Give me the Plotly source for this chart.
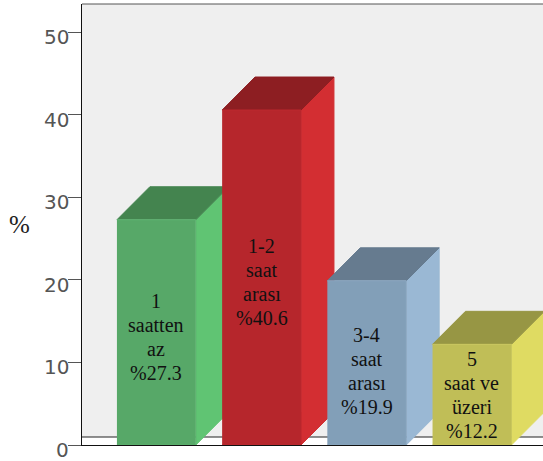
import plotly.graph_objects as go

# Daily duration groups and their shares (%)
labels = [["1", "saatten", "az", "%27.3"], ["1-2", "saat", "arası", "%40.6"],
          ["3-4", "saat", "arası", "%19.9"], ["5", "saat ve", "üzeri", "%12.2"]]
values = [27.3, 40.6, 19.9, 12.2]
label_levels = [13.15, 19.8, 9.03, 6.12]
front_colors = ["#57A868", "#B6262C", "#829FB8", "#C0BE57"]
edge_colors = ["#5DB26F", "#BC292F", "#89A6C0", "#C8C65C"]
side_colors = ["#60C473", "#D32E32", "#9AB8D4", "#DFDB62"]
top_colors = ["#44844F", "#8D1E22", "#667B8F", "#979644"]
y_ticks = [0, 10, 20, 30, 40, 50]

X_RANGE = [-0.707, 3.675]
HALF_W = 0.375
DEPTH_X = 0.313
DEPTH_Y = 4.0
FLOOR = 0.97
LINE_PX = 24

fig = go.Figure()


def poly(xs, ys, fill, line=None):
    fig.add_trace(go.Scatter(
        x=xs, y=ys, mode="lines", fill="toself", fillcolor=fill,
        line=dict(color=line or fill, width=1), hoverinfo="skip", showlegend=False,
    ))


# Line where the back wall meets the floor
fig.add_trace(go.Scatter(x=X_RANGE, y=[FLOOR, FLOOR], mode="lines",
                         line=dict(color="#222222", width=1), hoverinfo="skip", showlegend=False))

for i, v in enumerate(values):
    l, r = i - HALF_W, i + HALF_W
    # side face, top face, then front face so later bars overlap earlier ones
    poly([r, r + DEPTH_X, r + DEPTH_X, r], [0, DEPTH_Y, v + DEPTH_Y, v], side_colors[i])
    poly([l, l + DEPTH_X, r + DEPTH_X, r], [v, v + DEPTH_Y, v + DEPTH_Y, v], top_colors[i])
    poly([l, r, r, l], [0, 0, v, v], front_colors[i], edge_colors[i])

annotations = []
# Bar captions are placed line by line to hold a tight leading
for i, lines in enumerate(labels):
    for n, text in enumerate(lines):
        annotations.append(dict(x=i, y=label_levels[i], yshift=(1.5 - n) * LINE_PX,
                                text=text, showarrow=False, xref="x", yref="y",
                                font=dict(family="Liberation Serif", size=20, color="#111111")))
for t in y_ticks:
    annotations.append(dict(x=0, xref="paper", xanchor="right", xshift=-11, y=t, yref="y", yshift=-5,
                            text=str(t), showarrow=False,
                            font=dict(family="DejaVu Sans", size=20, color="#555555")))
annotations.append(dict(x=-0.135, xref="paper", xanchor="center", y=26.7, yref="y", text="%",
                        showarrow=False,
                        font=dict(family="Liberation Serif", size=25, color="#222222")))

fig.update_layout(
    width=543, height=461, margin=dict(l=81.5, r=0, t=4, b=15.5),
    plot_bgcolor="#EFEFEF", paper_bgcolor="white", showlegend=False,
    xaxis=dict(range=X_RANGE, showgrid=False, zeroline=False, showticklabels=False,
               ticks="", showline=True, linecolor="#111111", linewidth=1, layer="below traces"),
    yaxis=dict(range=[0, 53.45], tickvals=y_ticks, showticklabels=False, showgrid=False, zeroline=False,
               ticks="outside", ticklen=13, tickcolor="#555555", tickwidth=1,
               showline=True, linecolor="#111111", linewidth=1, layer="below traces"),
    annotations=annotations,
    shapes=[
        dict(type="rect", xref="paper", x0=0, x1=1, yref="y", y0=0, y1=FLOOR,
             fillcolor="white", line_width=0, layer="below"),
        dict(type="line", xref="paper", x0=0, x1=1, yref="paper", y0=1, y1=1,
             line=dict(color="#555555", width=1), layer="above"),
    ],
)

fig.write_html("out.html")
